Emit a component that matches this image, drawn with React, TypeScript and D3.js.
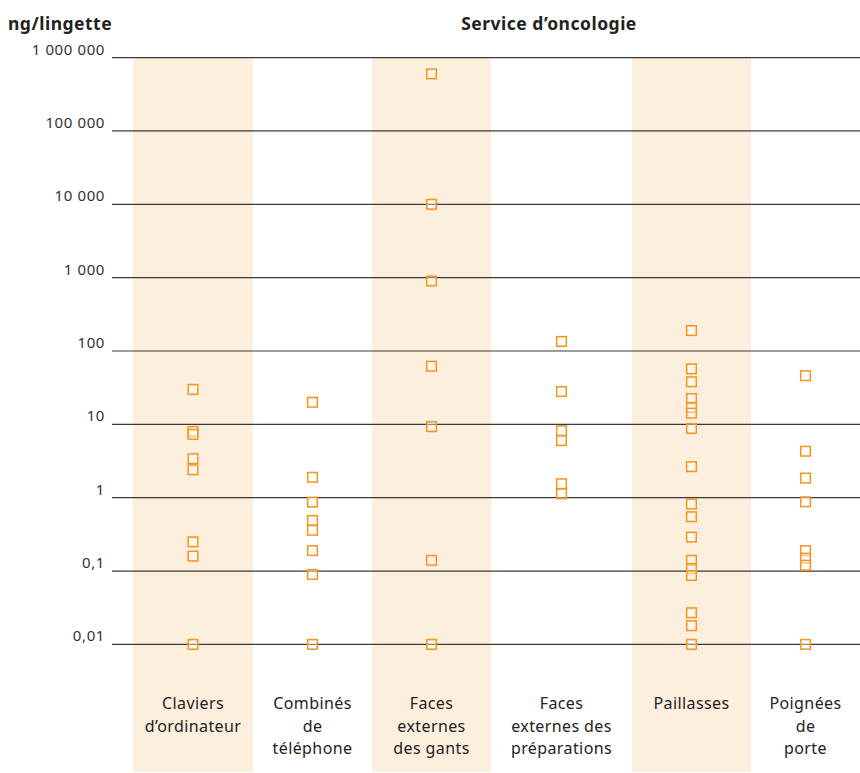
import React, { useEffect, useRef } from "react";
import * as d3 from "d3";

const categories = [
  ["Claviers", "d’ordinateur"],
  ["Combinés", "de", "téléphone"],
  ["Faces", "externes", "des gants"],
  ["Faces", "externes des", "préparations"],
  ["Paillasses"],
  ["Poignées", "de", "porte"],
];

const claviers = [30, 8, 7.3, 3.4, 2.4, 0.25, 0.16, 0.01];
const combines = [20, 1.9, 0.87, 0.49, 0.36, 0.19, 0.09, 0.01];
const gants = [600000, 10000, 900, 62, 9.3, 0.14, 0.01];
const preparations = [135, 28, 8.2, 6, 1.55, 1.13];
const paillasses = [190, 57, 38, 22.5, 17, 14.2, 8.8, 2.65, 0.82, 0.55, 0.29, 0.14, 0.108, 0.087, 0.027, 0.018, 0.01];
const poignees = [46, 4.3, 1.85, 0.88, 0.19, 0.15, 0.12, 0.01];

const seriesByCategory = [claviers, combines, gants, preparations, paillasses, poignees];

const tickValues = [1e6, 1e5, 1e4, 1e3, 100, 10, 1, 0.1, 0.01];
const tickLabels = ["1 000 000", "100 000", "10 000", "1 000", "100", "10", "1", "0,1", "0,01"];

const width = 860;
const height = 773;
// column edges (the reference uses uneven column widths)
const colEdges = [133, 253, 372, 491, 632, 751, 860];
const shaded = [0, 2, 4];
const font = "'Noto Sans', 'Open Sans', sans-serif";

export default function App() {
  const ref = useRef<SVGSVGElement | null>(null);

  useEffect(() => {
    if (!ref.current) return;
    const svg = d3.select(ref.current);
    svg.selectAll("*").remove();

    const y = d3.scaleLog().domain([0.01, 1e6]).range([644.4, 57.6]);
    const edge = d3.scaleLinear().domain(d3.range(colEdges.length)).range(colEdges);
    const cx = (i: number) => (edge(i) + edge(i + 1)) / 2;

    svg.append("g")
      .selectAll("rect")
      .data(shaded)
      .enter()
      .append("rect")
      .attr("x", d => edge(d))
      .attr("y", y(1e6))
      .attr("width", d => edge(d + 1) - edge(d))
      .attr("height", 772 - y(1e6))
      .attr("fill", "#fdefde");

    const grid = svg.append("g");
    grid.selectAll("line")
      .data(tickValues)
      .enter()
      .append("line")
      .attr("x1", 112)
      .attr("x2", width)
      .attr("y1", d => y(d))
      .attr("y2", d => y(d))
      .attr("stroke", "#3a3a3a")
      .attr("stroke-width", 1.2);

    grid.selectAll("text")
      .data(tickValues)
      .enter()
      .append("text")
      .attr("x", 105)
      .attr("y", d => y(d) - 3)
      .attr("text-anchor", "end")
      .attr("font-family", font)
      .attr("font-size", 15)
      .attr("letter-spacing", 0.6)
      .attr("fill", "#333")
      .text((d, i) => tickLabels[i]);

    seriesByCategory.forEach((vals, i) => {
      svg.append("g")
        .selectAll("rect")
        .data(vals)
        .enter()
        .append("rect")
        .attr("x", cx(i) - 4.8)
        .attr("y", d => y(d) - 4.8)
        .attr("width", 9.6)
        .attr("height", 9.6)
        .attr("fill", "white")
        .attr("fill-opacity", 0.4)
        .attr("stroke", "#f7941d")
        .attr("stroke-width", 1.5);
    });

    categories.forEach((lines, i) => {
      const t = svg.append("text")
        .attr("text-anchor", "middle")
        .attr("font-family", font)
        .attr("font-size", 16)
        .attr("letter-spacing", 0.4)
        .attr("fill", "#222");
      lines.forEach((l, j) => {
        t.append("tspan").attr("x", cx(i)).attr("y", 709 + j * 22.5).text(l);
      });
    });

    svg.append("text")
      .attr("x", 8)
      .attr("y", 30)
      .attr("font-family", font)
      .attr("font-size", 17.5)
      .attr("letter-spacing", 0.5)
      .attr("font-weight", "bold")
      .attr("fill", "#222")
      .text("ng/lingette");

    svg.append("text")
      .attr("x", 549)
      .attr("y", 30)
      .attr("text-anchor", "middle")
      .attr("font-family", font)
      .attr("font-size", 17.5)
      .attr("letter-spacing", 0.5)
      .attr("font-weight", "bold")
      .attr("fill", "#222")
      .text("Service d’oncologie");
  }, []);

  return (
    <svg
      ref={ref}
      width={width}
      height={height}
      style={{ position: "absolute", left: 0, top: 0, background: "white" }}
    />
  );
}
